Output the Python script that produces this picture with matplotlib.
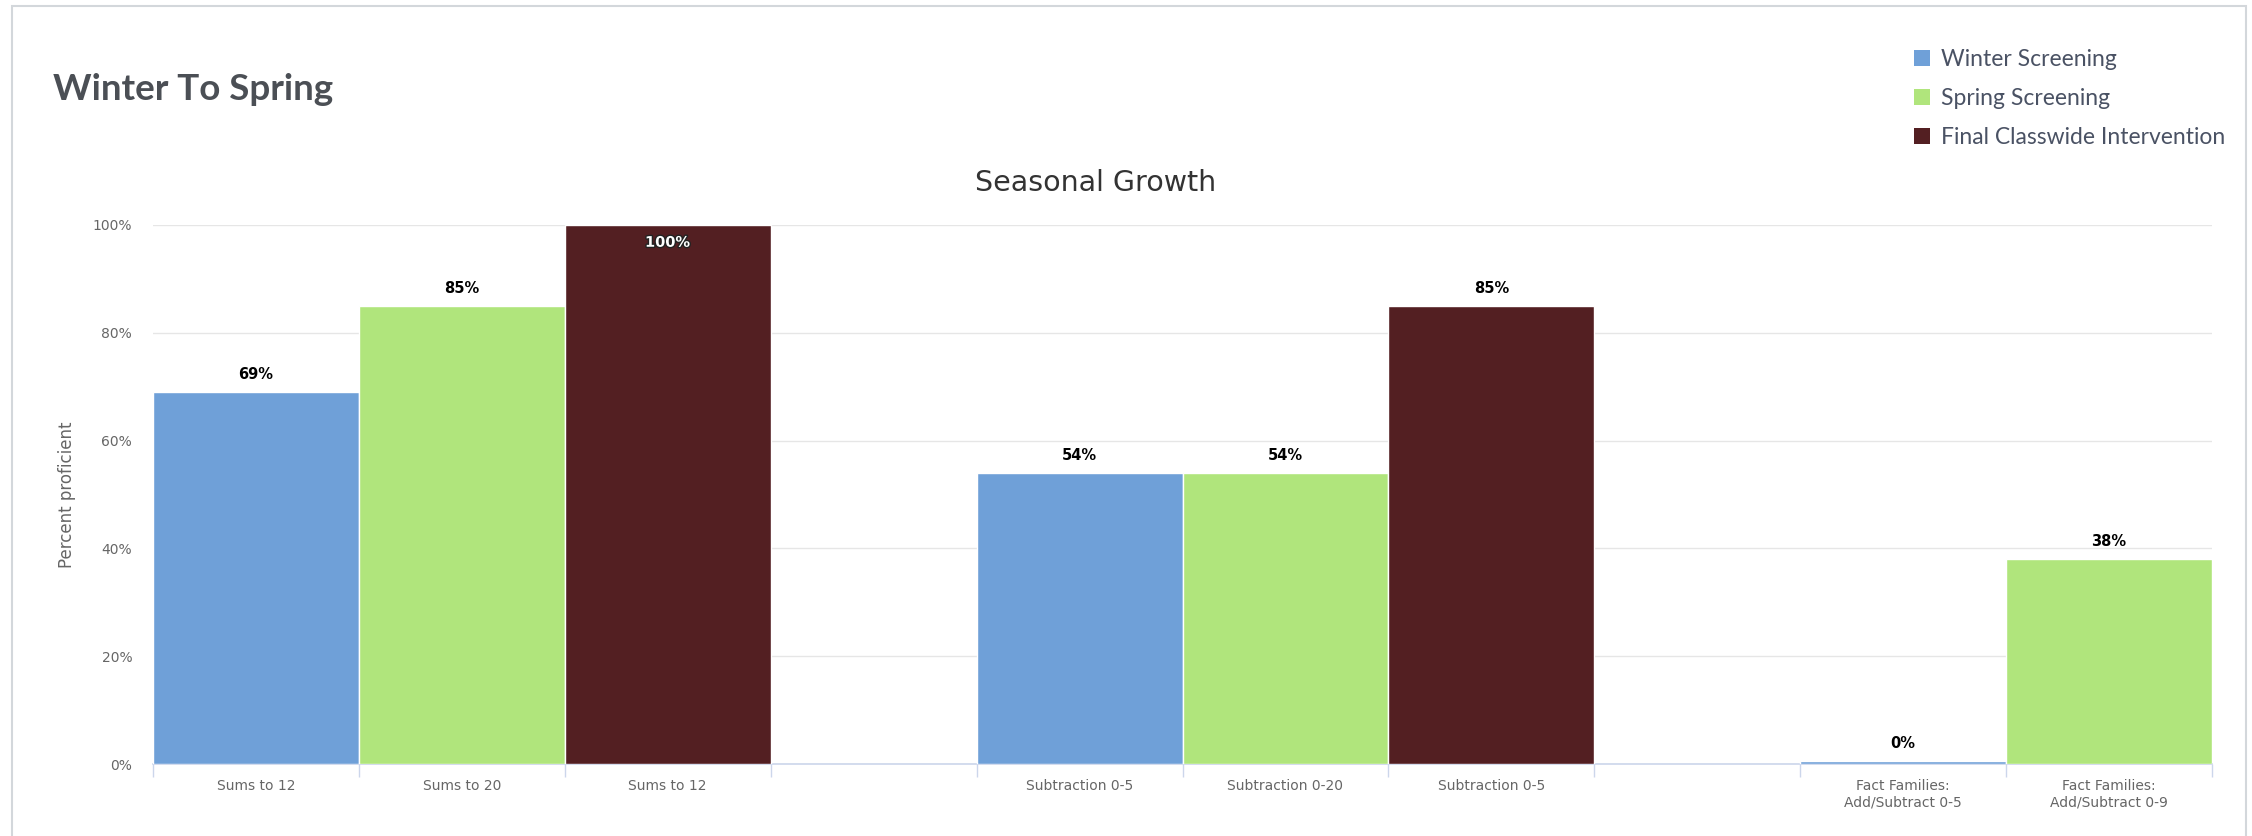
import matplotlib
matplotlib.use("Agg")
import matplotlib.pyplot as plt
import matplotlib.patheffects as pe
from matplotlib.patches import Patch, Rectangle

# data
categories = ["Sums to 12", "Sums to 20", "Sums to 12", "",
              "Subtraction 0-5", "Subtraction 0-20", "Subtraction 0-5", "",
              "Fact Families:\nAdd/Subtract 0-5", "Fact Families:\nAdd/Subtract 0-9"]
series_names = ["Winter Screening", "Spring Screening", "Final Classwide Intervention"]
# which series each slot belongs to (None = empty slot)
slot_series = [0, 1, 2, None, 0, 1, 2, None, 0, 1]
values = [69, 85, 100, None, 54, 54, 85, None, 0, 38]
yticks = [0, 20, 40, 60, 80, 100]

colors = ["#6fa0d8", "#b0e57c", "#531f22"]

W, H = 2252, 836
fig = plt.figure(figsize=(W / 100, H / 100), dpi=100)
fig.patch.set_facecolor("white")

# card border
fig.add_artist(Rectangle((12 / W, -0.05), (2246 - 12) / W, 1.05 - 6 / H,
                         transform=fig.transFigure, fill=False,
                         edgecolor="#d3d7db", lw=1.5))

ax = fig.add_axes([153 / W, 72 / H, (2212 - 153) / W, (764 - 225) / H])

for i, (s, v) in enumerate(zip(slot_series, values)):
    if s is None:
        continue
    h = max(v, 0.6)  # keep a thin sliver visible for 0%
    ax.bar(i, h, width=1.0, color=colors[s], edgecolor="white", linewidth=1, zorder=3)
    if v >= 100:
        ax.text(i, v - 3.2, f"{v}%", ha="center", va="center", fontsize=10.5,
                fontweight="bold", color="white", zorder=5,
                path_effects=[pe.withStroke(linewidth=2, foreground="#222222")])
    else:
        ax.text(i, h + 3.2, f"{v}%", ha="center", va="center", fontsize=10.5,
                fontweight="bold", color="black", zorder=5)

ax.set_xlim(-0.5, len(categories) - 0.5)
ax.set_ylim(0, 100)
ax.set_yticks(yticks)
ax.set_yticklabels([f"{t}%" for t in yticks])
ax.grid(axis="y", color="#e6e6e6", lw=1, zorder=0)
ax.tick_params(axis="y", length=0, labelsize=10, labelcolor="#666666", pad=15)

# boundaries as major ticks, labels as minor ticks
ax.set_xticks([i - 0.5 for i in range(len(categories) + 1)])
ax.set_xticklabels([])
ax.set_xticks(range(len(categories)), minor=True)
ax.set_xticklabels(categories, minor=True)
ax.tick_params(axis="x", which="major", length=9.5, color="#ccd6eb", width=1)
ax.tick_params(axis="x", which="minor", length=0, labelsize=10,
               labelcolor="#666666", pad=11)

for side in ["top", "right", "left"]:
    ax.spines[side].set_visible(False)
ax.spines["bottom"].set_color("#ccd6eb")
ax.spines["bottom"].set_linewidth(1.2)

ax.set_ylabel("Percent proficient", fontsize=12, color="#666666", labelpad=12)

fig.text(53 / W, 1 - 89 / H, "Winter To Spring", family="Lato", fontweight="bold",
         fontsize=26.5, color="#4b4f55", ha="left", va="center")
fig.text(1096 / W, 1 - 183 / H, "Seasonal Growth", fontsize=20.5, color="#333333",
         ha="center", va="center")

handles = [Patch(facecolor=c, edgecolor="none") for c in colors]
fig.legend(handles, series_names, loc="upper left",
           bbox_to_anchor=(1905 / W, 1 - 40 / H), frameon=False,
           prop={"family": "Lato", "size": 16.5}, labelcolor="#4a5264",
           handlelength=0.7, handleheight=0.7, handletextpad=0.45,
           labelspacing=0.78, borderaxespad=0)

fig.savefig("out.png", dpi=100)
